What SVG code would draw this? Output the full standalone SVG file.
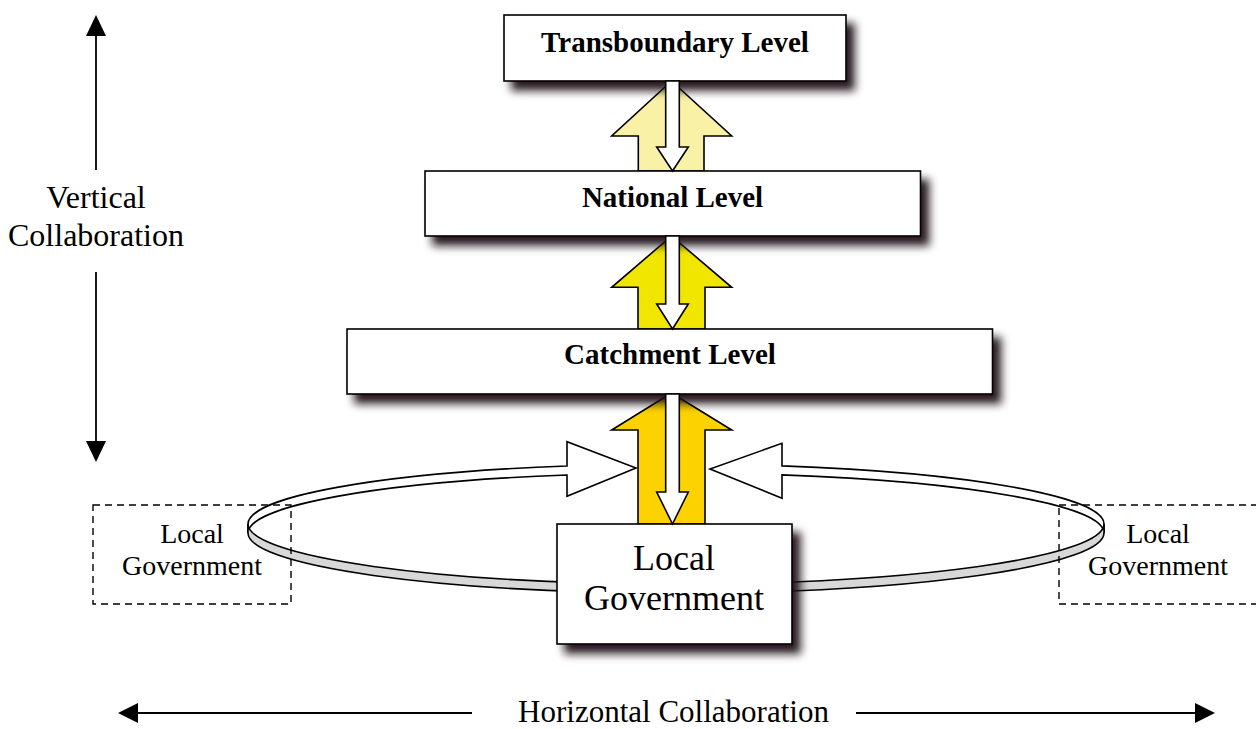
<svg xmlns="http://www.w3.org/2000/svg" width="1256" height="729" viewBox="0 0 1256 729">
<defs>
<filter id="sh" x="-10%" y="-30%" width="125%" height="170%">
<feGaussianBlur in="SourceAlpha" stdDeviation="4.5"/>
<feOffset dx="8" dy="9" result="b"/>
<feFlood flood-color="#1e1216" flood-opacity="0.95"/>
<feComposite in2="b" operator="in"/>
<feMerge><feMergeNode/><feMergeNode in="SourceGraphic"/></feMerge>
</filter>
<style>
.box{fill:#fff;stroke:#000;stroke-width:1.6}
.dash{fill:none;stroke:#000;stroke-width:1.4;stroke-dasharray:7 5}
.ln{stroke:#000;stroke-width:1.8;fill:none}
.hd{fill:#000}
.out{stroke:#000;stroke-width:1.6;stroke-linejoin:miter}
.b{font-family:"Liberation Serif","Times New Roman",serif;font-weight:bold;font-size:29px;text-anchor:middle;fill:#000}
.t{font-family:"Liberation Serif","Times New Roman",serif;text-anchor:middle;fill:#000}
</style>
</defs>
<rect width="1256" height="729" fill="#fff"/>
<g id="connectors-back">
<path class="out" fill="#F9F1A5" d="M638.3,171 L638.3,136 L611.7,136 L671.5,81 L731.7,136 L704,136 L704,171 Z"/>
<path class="out" fill="#F1E600" d="M638,329 L638,287.3 L611.7,287.3 L671.5,236 L731.7,287.3 L705,287.3 L705,329 Z"/>
<path class="out" fill="#FCD200" d="M638,524 L638,430 L611.7,430 L671.5,393 L731.7,430 L705,430 L705,524 Z"/>
<path class="out" fill="#fff" d="M248,524 A428,60 0 0 1 567,466 L567,441.7 L636,468 L567,496.3 L567,475 A428,60 0 0 0 248,533 Z"/>
<path class="out" fill="#fff" d="M1104,524 A428,60 0 0 0 782,465.9 L782,443.3 L710,469 L782,498.3 L782,474.9 A428,60 0 0 1 1104,533 Z"/>
<path class="out" fill="#d8d8d8" d="M248,524 A428,60 0 0 0 1104,524 L1104,533 A428,60 0 0 1 248,533 Z"/>
</g>
<g id="transboundary">
<rect class="box" x="504" y="15" width="342" height="66" filter="url(#sh)"/>
<text class="b" x="675" y="52">Transboundary Level</text>
</g>
<g id="national">
<rect class="box" x="425" y="171" width="495.5" height="65" filter="url(#sh)"/>
<text class="b" x="672.5" y="207">National Level</text>
</g>
<g id="catchment">
<rect class="box" x="347" y="329" width="645.5" height="65" filter="url(#sh)"/>
<text class="b" x="670" y="364">Catchment Level</text>
</g>
<g id="local-government">
<rect class="box" x="557" y="524" width="235" height="120" filter="url(#sh)"/>
<text class="t" x="674" y="570" font-size="36">Local</text>
<text class="t" x="674" y="610" font-size="36">Government</text>
</g>
<g id="local-government-left">
<rect class="dash" x="93" y="505" width="198" height="99"/>
<text class="t" x="192" y="543" font-size="28">Local</text>
<text class="t" x="192" y="575" font-size="28">Government</text>
</g>
<g id="local-government-right">
<rect class="dash" x="1059" y="505" width="200" height="99"/>
<text class="t" x="1158" y="543" font-size="28">Local</text>
<text class="t" x="1158" y="575" font-size="28">Government</text>
</g>
<g id="vertical-label">
<text class="t" x="96" y="208" font-size="32">Vertical</text>
<text class="t" x="96" y="246" font-size="32">Collaboration</text>
</g>
<g id="horizontal-label">
<text class="t" x="673.5" y="722" font-size="31">Horizontal Collaboration</text>
</g>
<g id="connectors">
<path class="out" fill="#fff" d="M665.7,81 L679.3,81 L679.3,147 L688.3,147 L672.5,171 L656.7,147 L665.7,147 Z"/>
<path class="out" fill="#fff" d="M665.7,236 L679.3,236 L679.3,304 L688.3,304 L672.5,329 L656.7,304 L665.7,304 Z"/>
<path class="out" fill="#fff" d="M665.7,394 L679.3,394 L679.3,492 L688.3,492 L672.5,524 L656.7,492 L665.7,492 Z"/>
<line class="ln" x1="96" y1="35" x2="96" y2="170"/>
<polygon class="hd" points="96,15 86,36 106,36"/>
<line class="ln" x1="96" y1="272" x2="96" y2="442"/>
<polygon class="hd" points="86,441 106,441 96,462"/>
<line class="ln" x1="137" y1="713" x2="472" y2="713"/>
<polygon class="hd" points="118,713 138,703 138,723"/>
<line class="ln" x1="856" y1="713" x2="1196" y2="713"/>
<polygon class="hd" points="1215,713 1195,703 1195,723"/>
</g>
</svg>
